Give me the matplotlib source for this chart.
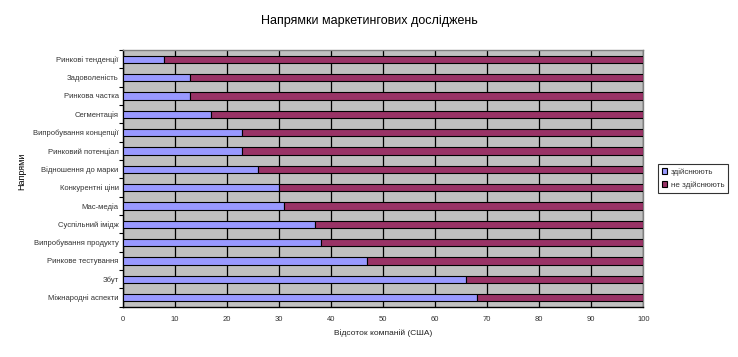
import numpy as np
import matplotlib
matplotlib.use("Agg")
import matplotlib.pyplot as plt

plt.rcParams['font.family'] = ['Liberation Sans', 'DejaVu Sans']

# categories from top to bottom, as in the picture
categories = ['Ринкові тенденції', 'Задоволеність', 'Ринкова частка', 'Сегментація',
              'Випробування концепції', 'Ринковий потенціал', 'Відношення до марки',
              'Конкурентні ціни', 'Мас-медіа', 'Суспільний імідж',
              'Випробування продукту', 'Ринкове тестування', 'Збут', 'Міжнародні аспекти']
doing = [8, 13, 13, 17, 23, 23, 26, 30, 31, 37, 38, 47, 66, 68]
not_doing = [100 - v for v in doing]
xticks = list(range(0, 101, 10))

fig = plt.figure(figsize=(7.38, 3.57), dpi=100)
ax = fig.add_axes([0.1663, 0.1409, 0.7054, 0.719])
ax.set_facecolor('#c0c0c0')

y = np.arange(len(categories))[::-1]
ax.barh(y, doing, height=0.4, color='#9999ff', edgecolor='black', linewidth=0.8,
        label='здійснюють', zorder=3)
ax.barh(y, not_doing, left=doing, height=0.4, color='#993366', edgecolor='black',
        linewidth=0.8, label='не здійснюють', zorder=3)

ax.set_xlim(0, 100)
ax.set_ylim(-0.5, len(categories) - 0.5)
ax.set_xticks(xticks)
ax.set_xticklabels([str(t) for t in xticks], fontsize=5.5, color='#333333')
ax.set_yticks(y)
ax.set_yticklabels(categories, fontsize=5.5, color='#333333')
ax.set_yticks(np.arange(len(categories) + 1) - 0.5, minor=True)
ax.tick_params(axis='y', which='major', length=0, pad=3)
ax.tick_params(axis='y', which='minor', length=3, width=0.8, direction='out')
ax.tick_params(axis='x', length=0, pad=7)
ax.xaxis.grid(True, color='black', linewidth=0.9, zorder=0)
ax.set_axisbelow(True)

ax.spines['left'].set_color('black')
ax.spines['bottom'].set_color('black')
ax.spines['top'].set_color('#808080')
ax.spines['right'].set_color('#808080')
for s in ax.spines.values():
    s.set_linewidth(1.0)

ax.set_xlabel('Відсоток компаній (США)', fontsize=6, color='#222222', labelpad=4)
fig.text(0.03, 0.52, 'Напрями', rotation=90, fontsize=6.5, color='black',
         ha='center', va='center')
fig.text(0.5, 0.94, 'Напрямки маркетингових досліджень', fontsize=9, ha='center',
         va='center', color='black')

leg = ax.legend(loc='center left', bbox_to_anchor=(1.02, 0.5), fontsize=5.8,
                frameon=True, fancybox=False, edgecolor='black', handlelength=0.7,
                handleheight=0.7, handletextpad=0.4, borderpad=0.5, labelspacing=0.6)
leg.get_frame().set_linewidth(0.8)
for t in leg.get_texts():
    t.set_color('#333333')

fig.savefig('out.png', dpi=100, facecolor='white')
